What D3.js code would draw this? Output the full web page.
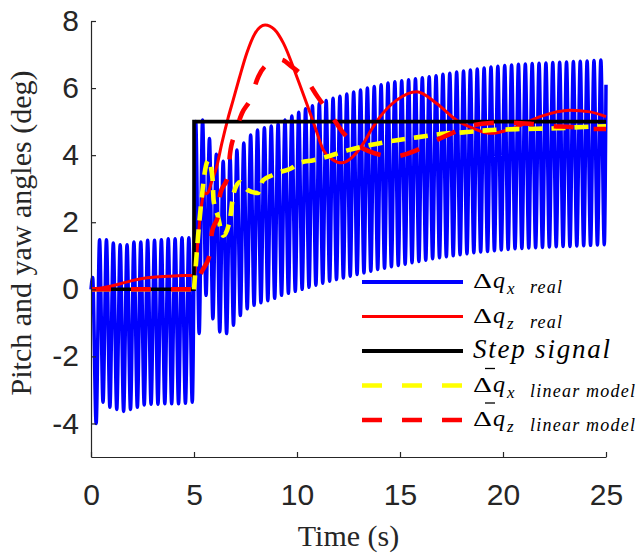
<!DOCTYPE html>
<html>
<head>
<meta charset="utf-8">
<script src="https://cdn.jsdelivr.net/npm/d3@7"></script>
<style>
  html, body { margin: 0; padding: 0; background: #fff; }
  svg { display: block; }
</style>
</head>
<body>
<svg id="chart" width="638" height="553"></svg>
<script>
// ---- data -------------------------------------------------------------
const xTicks = [0, 5, 10, 15, 20, 25];
const yTicks = [-4, -2, 0, 2, 4, 6, 8];

// Δq_x real: a fast ~3 Hz oscillation, given by its successive troughs and peaks
const qxCycleStart = 0.25;      // time of first trough (s)
const qxCyclePeriod = 1 / 3;    // s
const qxStart = [[0, 0], [0.08, 0.35]];
const qxEnd = [25, 6.1];
const qxTroughs = [
  -4.0, -3.37, -3.52, -3.58, -3.64, -3.58, -3.52, -3.45, -3.43, -3.43,
  -3.41, -3.41, -3.41, -3.40, -3.37, -1.32, -0.18, -0.88, -1.27, -1.32,
  -1.07, -0.78, -0.58, -0.48, -0.40, -0.34, -0.27, -0.18, -0.12, -0.06,
  0.0, 0.06, 0.12, 0.18, 0.24, 0.29, 0.34, 0.39, 0.44, 0.49,
  0.54, 0.59, 0.63, 0.67, 0.71, 0.75, 0.79, 0.83, 0.87, 0.91,
  0.94, 0.97, 1.00, 1.03, 1.06, 1.09, 1.11, 1.13, 1.15, 1.17,
  1.19, 1.21, 1.22, 1.23, 1.24, 1.25, 1.26, 1.27, 1.28, 1.28,
  1.29, 1.30, 1.31, 1.32, 1.33
];
const qxPeaks = [
  1.48, 1.48, 1.38, 1.33, 1.33, 1.41, 1.41, 1.46, 1.46, 1.48,
  1.51, 1.51, 1.54, 1.54, 5.00, 5.05, 4.50, 4.03, 3.82, 3.94,
  4.15, 4.36, 4.60, 4.75, 4.82, 4.87, 4.94, 5.05, 5.17, 5.28,
  5.38, 5.47, 5.55, 5.63, 5.70, 5.76, 5.82, 5.88, 5.94, 6.00,
  6.05, 6.10, 6.15, 6.19, 6.22, 6.25, 6.28, 6.31, 6.34, 6.37,
  6.41, 6.44, 6.48, 6.51, 6.54, 6.57, 6.60, 6.63, 6.65, 6.67,
  6.69, 6.71, 6.72, 6.73, 6.74, 6.75, 6.76, 6.77, 6.78, 6.79,
  6.80, 6.81, 6.82, 6.84
];

// Δq_z real
const qzRealT = [0, 0.5, 1, 1.5, 2, 2.5, 3, 3.5, 4, 4.5, 5,
  5.1, 5.2, 5.3, 5.4, 5.5, 5.6, 5.7, 5.85, 6.1, 6.35, 6.65, 6.9, 7.2, 7.56, 7.96,
  8.45, 8.9, 9.34, 9.99, 10.47, 10.87, 11.28, 11.7, 12.17, 12.7, 13.22, 13.6,
  14.03, 14.84, 15.81, 16.78, 17.75, 18.56, 19.37, 20.5, 21.8, 23.25, 24.22, 25];
const qzRealV = [0, 0.04, 0.1, 0.18, 0.26, 0.32, 0.36, 0.38, 0.4, 0.41, 0.41,
  0.8, 1.5, 2.2, 2.65, 2.88, 2.85, 2.9, 3.2, 3.65, 4.35, 5.1, 5.64, 6.3, 7.04, 7.63,
  7.88, 7.75, 7.34, 6.34, 5.54, 4.85, 4.15, 3.88, 3.77, 3.95, 4.35, 4.75,
  5.14, 5.64, 5.89, 5.54, 5.04, 4.8, 4.65, 4.8, 5.15, 5.34, 5.29, 5.15];

// Step signal
const stepT = [0, 5, 5, 25];
const stepV = [0, 0, 5, 5];

// Δq_x linear model
const qxLinT = [0, 5, 5.05, 5.2, 5.4, 5.5, 5.7, 5.9, 5.95, 6.15, 6.42, 6.75, 6.9, 7.23,
  7.6, 8.1, 8.35, 8.8, 9.2, 9.7, 10.1, 10.8, 11.44, 12.49, 13.54, 14.68, 15.81,
  16.94, 18.07, 19.2, 20.9, 22.6, 23.9, 25];
const qxLinV = [0, 0, 0.4, 1.6, 2.87, 3.4, 3.85, 3.3, 2.66, 2.2, 1.6, 2.1, 2.8, 3.2,
  2.96, 2.87, 3.25, 3.4, 3.5, 3.6, 3.76, 3.85, 3.95, 4.15, 4.3, 4.43, 4.53,
  4.63, 4.68, 4.74, 4.78, 4.8, 4.84, 4.86];

// Δq_z linear model
const qzLinT = [0, 5, 5.37, 5.78, 5.86, 6.18, 6.26, 6.65, 6.75, 7.0, 7.33, 7.72, 8.12,
  8.77, 9.2, 9.74, 10.47, 11.0, 11.6, 12.2, 12.8, 13.8, 14.7, 15.7, 16.6, 17.5,
  18.4, 19.4, 20.3, 21.4, 22.3, 23.3, 24.2, 25];
const qzLinV = [0, 0, 0.52, 1.07, 1.66, 2.26, 2.8, 3.4, 4.05, 4.65, 5.25, 5.64, 6.34,
  6.79, 6.85, 6.64, 6.24, 5.74, 5.24, 4.7, 4.35, 4.05, 3.96, 4.12, 4.4, 4.65,
  4.87, 4.96, 4.97, 4.93, 4.87, 4.84, 4.78, 4.78];

// ---- layout -----------------------------------------------------------
const svg = d3.select("#chart");
const x = d3.scaleLinear().domain([0, 25]).range([91, 606]);
const y = d3.scaleLinear().domain([-5, 8]).range([457, 21]);

const axisColor = "#262626";
const tickFont = "'Liberation Sans', Arial, Helvetica, sans-serif";
const serif = "'Liberation Serif', 'Times New Roman', serif";

const zip = (ts, vs) => ts.map((t, i) => [t, vs[i]]);

// Δq_x real points: alternate troughs and peaks
const qxPoints = [...qxStart];
qxTroughs.forEach((v, k) => {
  qxPoints.push([qxCycleStart + k * qxCyclePeriod, v]);
  if (k < qxPeaks.length) qxPoints.push([qxCycleStart + (k + 0.5) * qxCyclePeriod, qxPeaks[k]]);
});
qxPoints.push(qxEnd);

const smooth = d3.line().x(d => x(d[0])).y(d => y(d[1])).curve(d3.curveMonotoneX);
const straight = d3.line().x(d => x(d[0])).y(d => y(d[1]));

const plot = svg.append("g");

plot.append("path").datum(qxPoints).attr("d", smooth)
  .attr("fill", "none").attr("stroke", "#0000ff").attr("stroke-width", 3.5)
  .attr("stroke-linejoin", "round");

plot.append("path").datum(zip(qzRealT, qzRealV)).attr("d", smooth)
  .attr("fill", "none").attr("stroke", "#ff0000").attr("stroke-width", 3);

plot.append("path").datum(zip(stepT, stepV)).attr("d", straight)
  .attr("fill", "none").attr("stroke", "#000").attr("stroke-width", 3.6);

// the flat part before the step uses the same dash rhythm as the Δq_z model
const qxLin = zip(qxLinT, qxLinV);
plot.append("path").datum(qxLin.filter(d => d[0] <= 5)).attr("d", smooth)
  .attr("fill", "none").attr("stroke", "#ffff00").attr("stroke-width", 4.6)
  .attr("stroke-dasharray", "20,20");
plot.append("path").datum(qxLin.filter(d => d[0] >= 5)).attr("d", smooth)
  .attr("fill", "none").attr("stroke", "#ffff00").attr("stroke-width", 4.6)
  .attr("stroke-dasharray", "14,9");

plot.append("path").datum(zip(qzLinT, qzLinV)).attr("d", smooth)
  .attr("fill", "none").attr("stroke", "#ff0000").attr("stroke-width", 4.6)
  .attr("stroke-dasharray", "20,20");

// ---- axes -------------------------------------------------------------
const xAxis = svg.append("g").attr("transform", `translate(0,${y(-5)})`)
  .call(d3.axisBottom(x).tickValues(xTicks).tickSizeInner(-5).tickSizeOuter(0)
    .tickPadding(27).tickFormat(d => String(d)));
const yAxis = svg.append("g").attr("transform", `translate(${x(0)},0)`)
  .call(d3.axisLeft(y).tickValues(yTicks).tickSizeInner(-5).tickSizeOuter(0)
    .tickPadding(12).tickFormat(d => String(d)));

[xAxis, yAxis].forEach(g => {
  g.select(".domain").attr("stroke", axisColor).attr("stroke-width", 1.2);
  g.selectAll(".tick line").attr("stroke", axisColor).attr("stroke-width", 1.2);
  g.selectAll(".tick text").attr("fill", axisColor)
    .style("font-family", tickFont).style("font-size", "30px");
});

svg.append("text")
  .attr("x", (x(0) + x(25)) / 2).attr("y", 546)
  .attr("text-anchor", "middle")
  .style("font-family", serif).style("font-size", "30px").attr("fill", "#262626")
  .text("Time (s)");

svg.append("text")
  .attr("transform", `translate(31,233) rotate(-90)`)
  .attr("text-anchor", "middle")
  .style("font-family", serif).style("font-size", "30px").attr("fill", "#262626")
  .text("Pitch and yaw angles (deg)");

// ---- legend -----------------------------------------------------------
const legendItems = [
  { color: "#0000ff", dash: null, width: 4, sub: "x", tag: "real", bar: false },
  { color: "#ff0000", dash: null, width: 3.2, sub: "z", tag: "real", bar: false },
  { color: "#000000", dash: null, width: 3.8, label: "Step signal" },
  { color: "#ffff00", dash: "20,20", width: 4.6, sub: "x", tag: "linear model", bar: true },
  { color: "#ff0000", dash: "20,20", width: 4.6, sub: "z", tag: "linear model", bar: true }
];
const legendRow = d3.scaleLinear().domain([0, 4]).range([282, 420]);
const lg = svg.append("g").attr("fill", "#000");
legendItems.forEach((it, i) => {
  const ry = legendRow(i);
  lg.append("line").attr("x1", 362).attr("x2", 463).attr("y1", ry).attr("y2", ry)
    .attr("stroke", it.color).attr("stroke-width", it.width)
    .attr("stroke-dasharray", it.dash);
  if (it.label) {
    lg.append("text").attr("x", 473).attr("y", ry + 7)
      .style("font-family", serif).style("font-style", "italic").style("font-size", "27px")
      .attr("textLength", 137).attr("lengthAdjust", "spacing")
      .text(it.label);
    return;
  }
  const base = ry + 6;
  lg.append("text").attr("x", 473).attr("y", base)
    .style("font-family", serif).style("font-size", "21px")
    .attr("textLength", 19).attr("lengthAdjust", "spacingAndGlyphs").text("Δ");
  lg.append("text").attr("x", 493).attr("y", base)
    .style("font-family", serif).style("font-style", "italic").style("font-size", "24px")
    .text("q");
  lg.append("text").attr("x", 507).attr("y", base + 6)
    .style("font-family", serif).style("font-style", "italic").style("font-size", "17px")
    .text(it.sub);
  lg.append("text").attr("x", 530).attr("y", base + 5)
    .style("font-family", serif).style("font-style", "italic").style("font-size", "18px")
    .attr("textLength", it.tag === "real" ? 32 : 105).attr("lengthAdjust", "spacing")
    .text(it.tag);
  if (it.bar) {
    lg.append("line").attr("x1", 485).attr("x2", 495).attr("y1", ry - 17).attr("y2", ry - 17)
      .attr("stroke", "#000").attr("stroke-width", 1.3);
  }
});
</script>
</body>
</html>
